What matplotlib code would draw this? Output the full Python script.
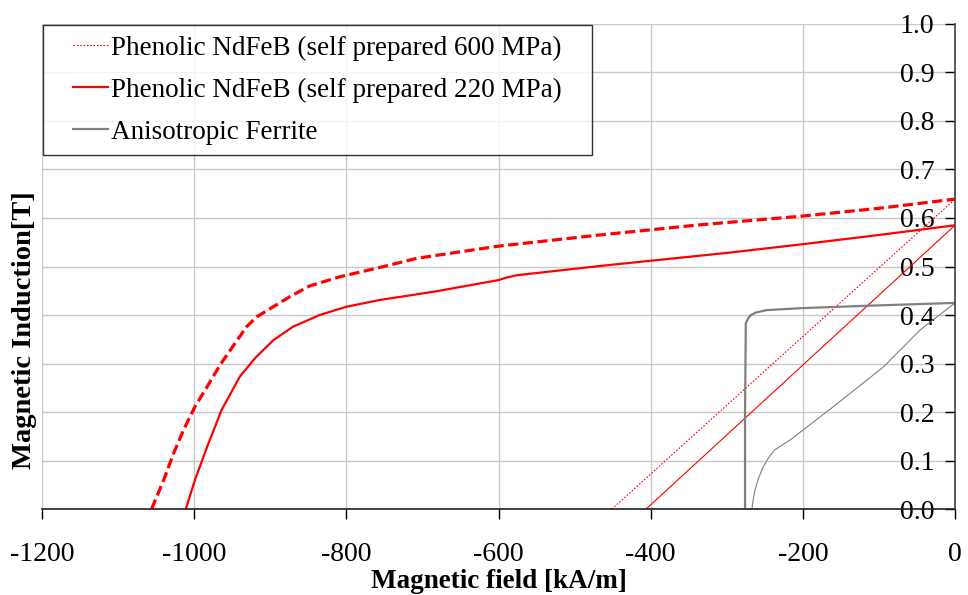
import matplotlib
matplotlib.use("Agg")
from matplotlib import pyplot as plt
from matplotlib.legend_handler import HandlerLine2D

plt.rcParams['font.family'] = ['Liberation Serif', 'DejaVu Serif']

# 600 MPa demagnetisation curve (thick dashed)
h_600 = [-1056, -1040, -1027, -1014, -999, -983, -966, -951, -931, -918, -896, -874, -848,
         -808, -756, -707, -600, -467, -335, -200, -100, 0]
b_600 = [0.0, 0.060, 0.115, 0.163, 0.211, 0.252, 0.297, 0.331, 0.376, 0.396, 0.417, 0.438, 0.460,
         0.479, 0.498, 0.517, 0.542, 0.565, 0.586, 0.604, 0.620, 0.639]
# 600 MPa recoil line (thin dotted)
h_600_line = [-451, 0]
b_600_line = [0.0, 0.639]

# 220 MPa demagnetisation curve
h_220 = [-1011, -999, -983, -964, -940, -920, -896, -870, -835, -800, -756, -685, -600, -590,
         -576, -467, -300, -200, -100, 0]
b_220 = [0.0, 0.060, 0.128, 0.204, 0.273, 0.311, 0.348, 0.376, 0.400, 0.417, 0.431, 0.448, 0.472,
         0.477, 0.482, 0.501, 0.528, 0.546, 0.565, 0.585]
h_220_line = [-406, 0]
b_220_line = [0.0, 0.585]

# anisotropic ferrite
h_fe = [-276, -276, -275, -272, -268, -262, -248, -204, -116, 0]
b_fe = [0.0, 0.20, 0.383, 0.393, 0.400, 0.405, 0.410, 0.414, 0.419, 0.425]
h_fe2 = [-267, -265, -263, -258, -252, -245, -237, -217, -160, -94, -46, 0]
b_fe2 = [0.0, 0.022, 0.039, 0.065, 0.087, 0.106, 0.122, 0.142, 0.211, 0.293, 0.369, 0.425]

x_ticks = [-1200, -1000, -800, -600, -400, -200, 0]
y_ticks = [0.0, 0.1, 0.2, 0.3, 0.4, 0.5, 0.6, 0.7, 0.8, 0.9, 1.0]

fig = plt.figure(figsize=(9.68, 5.95), dpi=100)
ax = fig.add_axes([0.0434, 0.1445, 0.9432, 0.8152])

# trailing spaces widen the legend box on the right like the original
ax.plot(h_600, b_600, color='red', lw=2.3, dashes=(3.2, 1.4))
ax.plot(h_600_line, b_600_line, color='red', lw=0.8, ls=(0, (1.5, 1.5)),
        label='Phenolic NdFeB (self prepared 600 MPa)   ')
ax.plot(h_220, b_220, color='red', lw=1.6,
        label='Phenolic NdFeB (self prepared 220 MPa)   ')
ax.plot(h_220_line, b_220_line, color='red', lw=0.8)
ax.plot(h_fe, b_fe, color='#808080', lw=1.6, label='Anisotropic Ferrite')
ax.plot(h_fe2, b_fe2, color='#808080', lw=0.8)

ax.set_xlim(-1200, 0)
ax.set_ylim(0, 1.0)
ax.set_xticks(x_ticks)
ax.set_xticklabels([str(t) for t in x_ticks])
ax.set_yticks(y_ticks)
ax.set_yticklabels(['%.1f' % t for t in y_ticks])
ax.grid(True, color='#c8c8c8', lw=1.0)
ax.set_axisbelow(True)

for s in ['top', 'right']:
    ax.spines[s].set_visible(False)
ax.spines['left'].set_position(('data', 0))
ax.spines['left'].set_color('#404040')
ax.spines['left'].set_linewidth(1.2)
ax.spines['bottom'].set_color('#202020')
ax.spines['bottom'].set_linewidth(1.2)
ax.spines['left'].set_zorder(5)
ax.tick_params(axis='x', direction='out', length=7, width=1, labelsize=20, pad=17)
ax.tick_params(axis='y', direction='out', length=7, width=1, labelsize=20, pad=8)

ax.set_xlabel('Magnetic field [kA/m]', fontsize=19.5, fontweight='bold', labelpad=1.5)
ax.set_ylabel('Magnetic Induction[T]', fontsize=20.5, fontweight='bold')
ax.yaxis.set_label_coords(-0.006, 0.369, transform=ax.transAxes)

leg = ax.legend(loc='upper left', bbox_to_anchor=(0.001, 0.998), fontsize=19.5,
                frameon=True, fancybox=False, edgecolor='black', handlelength=2.0,
                handletextpad=0.1, borderpad=0.4, labelspacing=0.62, borderaxespad=0,
                handler_map={plt.Line2D: HandlerLine2D(xpad=0.72)})
leg.get_frame().set_linewidth(1.0)

fig.savefig('out.png', dpi=100)
